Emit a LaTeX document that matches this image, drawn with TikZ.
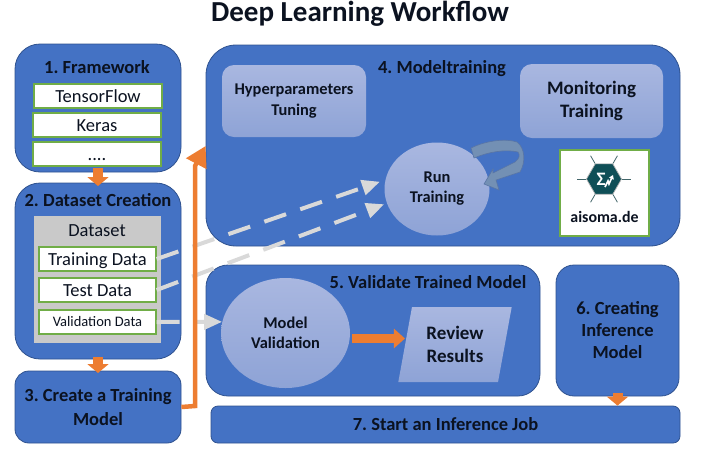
\documentclass[tikz,border=0pt]{standalone}
\usepackage{fontspec}
\setmainfont{Carlito}
\usetikzlibrary{arrows.meta,shapes.geometric,calc}
\definecolor{boxblue}{HTML}{4472C4}
\definecolor{boxedge}{HTML}{2F528F}
\definecolor{paleTop}{HTML}{A9B7E0}
\definecolor{paleBot}{HTML}{8EA3D6}
\definecolor{leafgreen}{HTML}{70AD47}
\definecolor{flow}{HTML}{ED7D31}
\definecolor{panel}{HTML}{C9C9C9}
\definecolor{dashgray}{HTML}{D9D9D9}
\definecolor{loopblue}{HTML}{7390B4}
\definecolor{logoteal}{HTML}{0F4F57}
\definecolor{ink}{HTML}{0B1220}
\frenchspacing
\begin{document}
\begin{tikzpicture}[x=1pt,y=-1pt,inner sep=0pt,text=ink,
  phase/.style={draw=boxedge,fill=boxblue,line width=0.8pt,rounded corners=#1},
  head/.style={font=\fontsize{18.5}{22}\selectfont\bfseries,align=flush center},
  pale/.style={top color=paleTop,bottom color=paleBot,font=\fontsize{19}{23}\selectfont\bfseries,align=flush center,execute at begin node={\rule{0pt}{1.2em}}},
  entry/.style={draw=leafgreen,fill=white,line width=1.2pt,minimum height=24pt,text height=14pt,text depth=2pt,font=\fontsize{18.5}{20}\selectfont},
  stub/.style={draw=flow,line width=10pt,-{Triangle[length=9pt,width=21pt]},shorten >=0pt},
  feed/.style={draw=dashgray,line width=4pt,dash pattern=on 23pt off 15pt,-{Triangle[length=18pt,width=15pt]}}]
\useasboundingbox (0,0) rectangle (727,467);
\node at (360,14) (title) {\fontsize{29}{32}\selectfont\bfseries Deep Learning Workflow};
% left column
\node at (98,108) [phase=25pt,minimum width=166pt,minimum height=128pt] (framework) {};
\node at (98,271) [phase=25pt,minimum width=166pt,minimum height=176pt] (dataset) {};
\node at (98,407) [phase=14pt,minimum width=166pt,minimum height=72pt,head,text width=160pt] (create) {3. Create a Training\\[2pt]Model};
\node at (97,67) [head] (frameworkhead) {1. Framework};
\node at (98,96) [entry,minimum width=128pt] (tf) {TensorFlow};
\node at (97,125) [entry,minimum width=128pt] (keras) {Keras};
\node at (97,154) [entry,minimum width=128pt] (more) {....};
\node at (98,200) [head] (datasethead) {2. Dataset Creation};
\node at (97.5,279.5) [fill=panel,minimum width=127pt,minimum height=127pt] (pool) {};
\node at (97,231) [font=\fontsize{18.5}{20}\selectfont] (poolhead) {Dataset};
\node at (97.5,259) [entry,minimum width=117pt] (traindata) {Training Data};
\node at (97.5,290) [entry,minimum width=117pt] (testdata) {Test Data};
\node at (97.5,322) [entry,minimum width=117pt,text height=11pt,text depth=2pt,font=\fontsize{14.5}{16}\selectfont] (valdata) {Validation Data};
% right side
\node at (443,145.5) [phase=30pt,minimum width=474pt,minimum height=201pt] (training) {};
\node at (373,330.5) [phase=22pt,minimum width=334pt,minimum height=131pt] (validate) {};
\node at (617.5,330.5) [phase=18pt,minimum width=123pt,minimum height=131pt,head,text width=110pt] (inference) {6. Creating\\Inference\\Model};
\node at (445.5,424.5) [phase=7pt,minimum width=469pt,minimum height=37pt,head] (job) {7. Start an Inference Job};
\node at (442,69) [head] (traininghead) {4. Modeltraining};
\node at (428,282) [head] (validatehead) {5. Validate Trained Model};
\node at (294,101) [pale,rounded corners=12pt,minimum width=144pt,minimum height=72pt,font=\fontsize{16.4}{21}\selectfont\bfseries] (tuning) {Hyperparameters\\Tuning};
\node at (591.5,101) [pale,rounded corners=12pt,minimum width=143pt,minimum height=74pt] (monitor) {Monitoring\\Training};
\node at (437,189) [pale,ellipse,minimum width=105pt,minimum height=93pt,font=\fontsize{16.4}{20}\selectfont\bfseries] (run) {Run\\Training};
\node at (285.5,333) [pale,ellipse,minimum width=129pt,minimum height=110pt,font=\fontsize{16.4}{20}\selectfont\bfseries] (modelval) {Model\\Validation};
\node at (455,344.5) [pale,trapezium,trapezium left angle=76,trapezium right angle=104,minimum width=114pt,minimum height=75pt,trapezium stretches=true] (review) {Review\\Results};
% logo
\node at (604.5,193) [draw=leafgreen,fill=white,line width=1.2pt,minimum width=89pt,minimum height=86pt] (logo) {};
\node at (604,179) [regular polygon,regular polygon sides=6,fill=logoteal,draw=gray!60,line width=0.7pt,minimum size=35pt] (hex) {};
\foreach \corner in {1,...,6}
  \draw[logoteal!55!gray,line width=0.8pt] (hex.corner \corner) -- ($(hex.center)!1.5!(hex.corner \corner)$);
\node at (601,179.5) [text=white,font=\fontsize{19}{20}\selectfont\bfseries] (sigma) {Σ};
\draw[white,line width=1.6pt,-{Triangle[length=4pt,width=5pt]}] (605,187) -- (608,181) -- (609,184) -- (613,175);
\node at (604.5,217) [font=\fontsize{15.9}{18}\selectfont\bfseries] (logotext) {aisoma.de};
% connectors
\draw[feed] (traindata.east) -- ([xshift=-5pt]run.172);
\draw[feed] (testdata.east) -- ([xshift=-3pt]run.197);
\draw[feed] (valdata.east) -- (modelval.170);
\draw[flow,line width=4.5pt,-{Triangle[length=20pt,width=22pt]}] (create.east) -- (195,406) -- (195,166) -- (training.west |- 0,146);
\draw[stub] (framework.south) ++(0,-4) -- (dataset.north |- 0,186);
\draw[stub] (dataset.south) ++(0,-2) -- (create.north |- 0,373);
\draw[stub] (inference.south) ++(0,-3) -- (job.north -| inference.south);
\draw[flow,line width=9pt,-{Triangle[length=11pt,width=19pt]}] (352,338.5) -- (review.west |- 0,338.5);
\fill[loopblue,draw=boxedge!80,line width=0.6pt] (471,148) .. controls (485,141) and (505,138) .. (517,142)
  .. controls (525,148) and (526,162) .. (520,172) -- (496,180) -- (499,190) -- (484,184) -- (493,169) -- (493,173)
  -- (515,162) .. controls (520,158) and (520,155) .. (518,152) .. controls (505,149) and (488,152) .. (474,158) -- cycle;
\end{tikzpicture}
\end{document}
